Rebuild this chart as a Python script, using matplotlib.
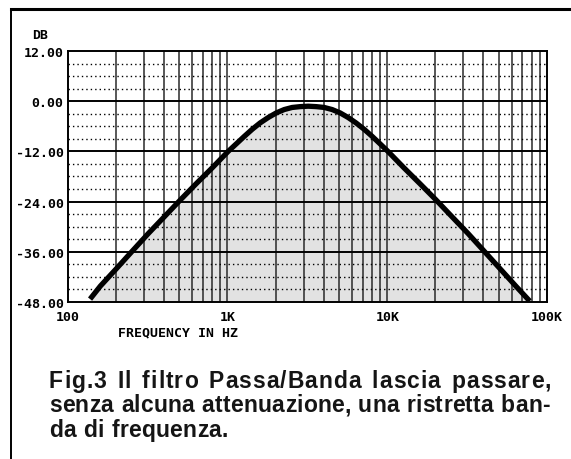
# Band-pass filter response: gain in dB against frequency on a log axis,
# printed-plotter style with a caption underneath

import matplotlib.pyplot as plt
from matplotlib.lines import Line2D
from matplotlib.font_manager import FontProperties, findfont
from matplotlib.ft2font import FT2Font
import matplotlib.ticker as ticker

# Frequency points (Hz) and gain (dB)
freq = [138, 160, 202, 254, 320, 403, 507, 638, 804, 1010, 1135, 1275,
        1430, 1600, 1800, 2020, 2265, 2540, 2850, 3200, 3590, 4030, 4520,
        5070, 5690, 6380, 7160, 8040, 9020, 10100, 12700, 16000, 20200,
        25400, 32000, 40300, 50700, 63800, 78000]
gain = [-47.3, -44.2, -40.0, -35.8, -31.6, -27.6, -23.6, -19.7, -15.9,
        -12.0, -10.2, -8.4, -6.7, -5.2, -3.9, -2.8, -2.0, -1.5, -1.3, -1.2,
        -1.3, -1.5, -2.0, -2.8, -3.9, -5.2, -6.7, -8.4, -10.2, -12.0,
        -15.9, -19.7, -23.6, -27.6, -31.6, -35.8, -40.0, -44.2, -47.8]

y_ticks = [12, 0, -12, -24, -36, -48]
y_labels = ["12.00", "0.00", "-12.00", "-24.00", "-36.00", "-48.00"]
x_ticks = [100, 1000, 10000, 100000]
x_labels = ["100", "1K", "10K", "100K"]

caption = ["Fig.3 Il filtro Passa/Banda lascia passare,",
           "senza alcuna attenuazione, una ristretta ban-",
           "da di frequenza."]

mono = dict(family="DejaVu Sans Mono", weight="bold", size=9.5)
cap_size = 16.5
cap_font = dict(family="Liberation Sans", weight="bold", size=cap_size,
                color="#151515")

W, H = 571, 460
fig = plt.figure(figsize=(W / 100, H / 100), dpi=100)
ax = fig.add_axes([0.1186, 0.3413, 0.8394, 0.5457])

ax.set_xscale("log")
ax.set_xlim(100, 100000)
ax.set_ylim(-48, 12)

# stippled area under the curve
ax.fill_between(freq, gain, -48, color="#e2e2e2", zorder=0.5, lw=0)

# grid: solid verticals at every 1..9 step, solid rows every 12 dB,
# dotted rows every 3 dB
for dec in [100, 1000, 10000]:
    for m in range(2, 10):
        ax.axvline(dec * m, color="#2a2a2a", lw=1.1, zorder=1)
for dec in [1000, 10000]:
    ax.axvline(dec, color="#2a2a2a", lw=1.1, zorder=1)
for v in range(-45, 12, 3):
    if v % 12 == 0:
        ax.axhline(v, color="black", lw=1.4, zorder=1)
    else:
        ax.axhline(v, color="black", lw=1.0, ls=(0, (1, 2.2)), zorder=1)

ax.plot(freq, gain, color="black", lw=3.8, solid_capstyle="butt",
        solid_joinstyle="round", zorder=3)

for s in ax.spines.values():
    s.set_linewidth(1.4)

ax.xaxis.set_minor_locator(ticker.NullLocator())
ax.set_xticks(x_ticks)
ax.set_xticklabels(x_labels, **mono)
ax.set_yticks(y_ticks)
ax.set_yticklabels(y_labels, **mono)
ax.tick_params(length=0, pad=3)
ax.tick_params(axis="x", pad=6)

fig.text(0.056, 0.937, "DB", ha="left", va="top", **mono)
fig.text(0.311, 1 - 326 / H, "FREQUENCY IN HZ", ha="center", va="top",
         **mono)

# page frame: rule on top and on the left
fig.add_artist(Line2D([11 / W, 1.0], [1 - 10 / H, 1 - 10 / H],
                      color="black", lw=2.2, transform=fig.transFigure))
fig.add_artist(Line2D([11 / W, 11 / W], [0, 1 - 10 / H],
                      color="black", lw=1.4, transform=fig.transFigure))

# caption set letter by letter; the first two lines are justified to
# x=49..548, word gaps taking four times the stretch of letter gaps
ft = FT2Font(findfont(FontProperties(family="Liberation Sans",
                                     weight="bold")))
ft.set_size(cap_size, 100)


def advances(s):
    return [ft.load_char(ord(c)).linearHoriAdvance / 65536 for c in s]


left_px, right_px = 49, 548
SPACE_WEIGHT = 4
units = []
for i, line in enumerate(caption):
    adv = advances(line)
    weights = [SPACE_WEIGHT if c == " " else 1 for c in line[:-1]]
    if i < len(caption) - 1:
        natural = sum(adv[:-1]) + ft.load_char(ord(line[-1])).width / 64
        unit = (right_px - left_px - natural) / sum(weights)
        units.append(unit)
    else:
        unit = min(units)
    y = 1 - (388 + 24.5 * i) / H
    x = left_px
    for k, (c, a) in enumerate(zip(line, adv)):
        if c != " ":
            fig.text(x / W, y, c, ha="left", va="baseline", **cap_font)
        if k < len(weights):
            x += a + unit * weights[k]

fig.savefig("out.png", dpi=100)
